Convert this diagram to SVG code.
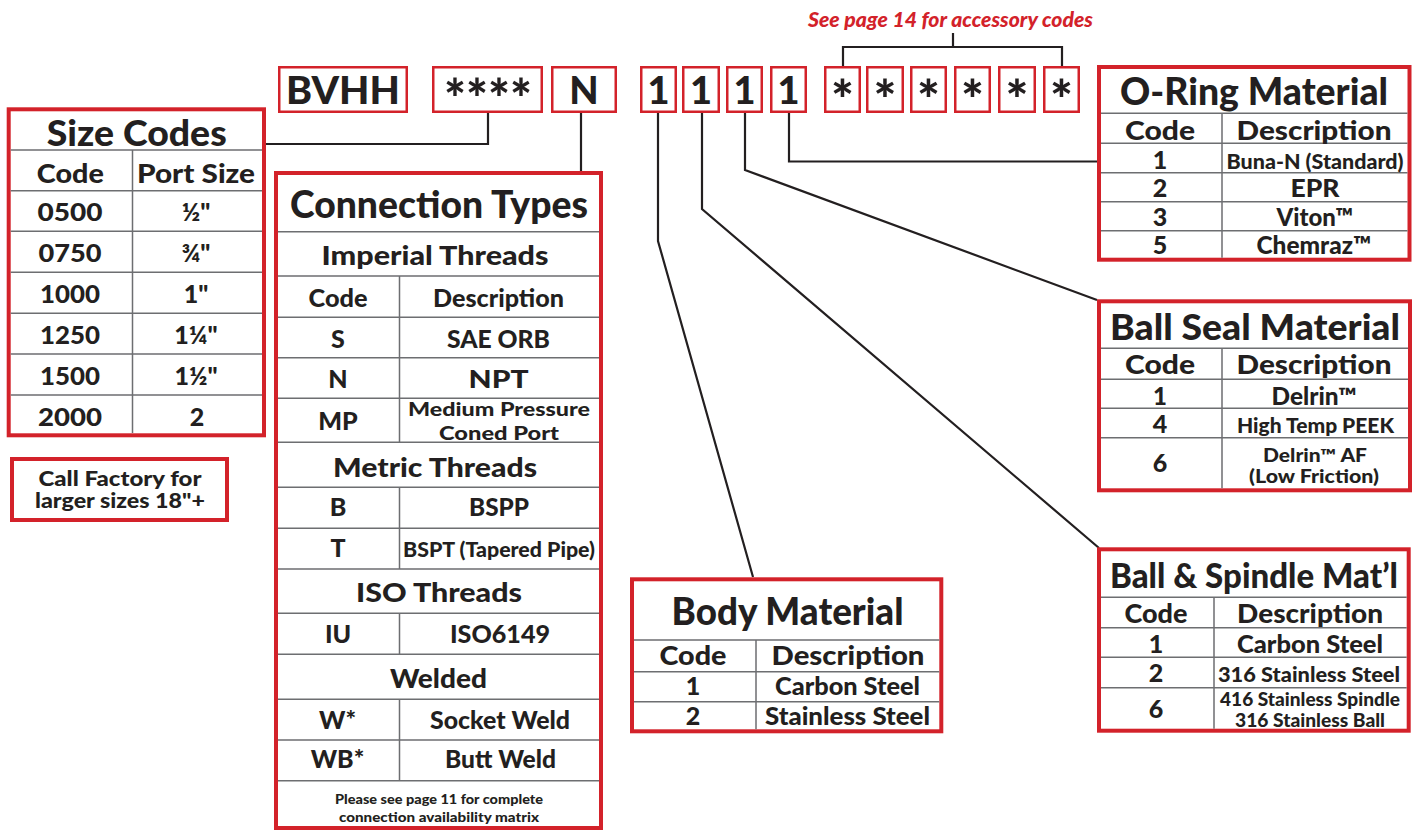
<svg xmlns="http://www.w3.org/2000/svg" width="1419" height="832" viewBox="0 0 1419 832">
<style>
.r{fill:#fff;stroke:#d3222a;stroke-width:4}
.cb{fill:#fff;stroke:#d3222a;stroke-width:2.5}
.g{stroke:#6d6e71;stroke-width:1.5;fill:none}
.c{fill:none;stroke:#231f20;stroke-width:2.2}
text{font-family:Lato,"Open Sans","Liberation Sans",sans-serif;font-weight:900;fill:#231f20;text-anchor:middle}
.t{font-size:36px}
.h{font-size:27px}
.v{font-size:25px}
.w{font-size:24px}
.s{font-size:20px}
.m{font-size:18px}
.k{font-size:38px}
.a{font-size:54px}
</style>
<rect width="1419" height="832" fill="#fff"/>

<g id="connectors">
<polyline class="c" points="488,113 488,144 266,144"/>
<polyline class="c" points="581,113 581,171"/>
<polyline class="c" points="658,113 658,241 753,577"/>
<polyline class="c" points="702,113 702,209 1099,548"/>
<polyline class="c" points="745,113 745,170 1097,300"/>
<polyline class="c" points="789,113 789,161.5 1097,161.5"/>
<polyline class="c" points="843,66 843,47 1062,47 1062,66"/>
<line class="c" x1="953" y1="47" x2="953" y2="33"/>
</g>

<g id="accessory-note">
<text x="950.5" y="27" style="font-size:21px;font-style:italic;fill:#d3222a" textLength="285" lengthAdjust="spacingAndGlyphs">See page 14 for accessory codes</text>
</g>

<g id="code-boxes">
<rect class="cb" x="279.25" y="67.25" width="127.5" height="44.5"/>
<text class="k" x="343" y="104" textLength="114" lengthAdjust="spacingAndGlyphs">BVHH</text>
<rect class="cb" x="433.25" y="67.25" width="108.5" height="44.5"/>
<text class="a" x="488" y="118" textLength="88" lengthAdjust="spacingAndGlyphs">****</text>
<rect class="cb" x="552.25" y="67.25" width="63.5" height="44.5"/>
<text class="k" x="584" y="104">N</text>
<rect class="cb" x="641.25" y="67.25" width="34.5" height="44.5"/>
<text class="k" x="658.5" y="104">1</text>
<rect class="cb" x="683.25" y="67.25" width="35.5" height="44.5"/>
<text class="k" x="701" y="104">1</text>
<rect class="cb" x="727.25" y="67.25" width="34.5" height="44.5"/>
<text class="k" x="744.5" y="104">1</text>
<rect class="cb" x="771.25" y="67.25" width="34.5" height="44.5"/>
<text class="k" x="788.5" y="104">1</text>
<rect class="cb" x="825.25" y="67.25" width="34.5" height="44.5"/>
<text class="a" x="842.5" y="119">*</text>
<rect class="cb" x="867.25" y="67.25" width="35.5" height="44.5"/>
<text class="a" x="885" y="119">*</text>
<rect class="cb" x="911.25" y="67.25" width="34.5" height="44.5"/>
<text class="a" x="928.5" y="119">*</text>
<rect class="cb" x="955.25" y="67.25" width="34.5" height="44.5"/>
<text class="a" x="972.5" y="119">*</text>
<rect class="cb" x="999.25" y="67.25" width="35.5" height="44.5"/>
<text class="a" x="1017" y="119">*</text>
<rect class="cb" x="1044.25" y="67.25" width="34.5" height="44.5"/>
<text class="a" x="1061.5" y="119">*</text>
</g>

<g id="size-codes">
<rect class="r" x="8.7" y="109.3" width="255.3" height="326"/>
<path class="g" d="M10.7 150H262M10.7 190.7H262M10.7 231.3H262M10.7 272.3H262M10.7 313.3H262M10.7 354H262M10.7 395H262M132.5 150V433"/>
<text x="136.7" y="146" style="font-size:36px" textLength="180" lengthAdjust="spacingAndGlyphs">Size Codes</text>
<text class="h" x="70.3" y="183" textLength="67" lengthAdjust="spacingAndGlyphs">Code</text>
<text class="h" x="196" y="183" textLength="118" lengthAdjust="spacingAndGlyphs">Port Size</text>
<text class="v" x="70" y="221" textLength="65" lengthAdjust="spacingAndGlyphs">0500</text>
<text class="v" x="196" y="221">½"</text>
<text class="v" x="70" y="262" textLength="63" lengthAdjust="spacingAndGlyphs">0750</text>
<text class="v" x="196" y="262">¾"</text>
<text class="v" x="70" y="303" textLength="60" lengthAdjust="spacingAndGlyphs">1000</text>
<text class="v" x="196" y="303">1"</text>
<text class="v" x="70" y="344" textLength="60" lengthAdjust="spacingAndGlyphs">1250</text>
<text class="v" x="196" y="344">1¼"</text>
<text class="v" x="70" y="385" textLength="60" lengthAdjust="spacingAndGlyphs">1500</text>
<text class="v" x="196" y="385">1½"</text>
<text class="v" x="70" y="426" textLength="64" lengthAdjust="spacingAndGlyphs">2000</text>
<text class="v" x="197" y="426">2</text>
</g>

<g id="call-factory">
<rect class="r" x="12" y="459" width="215" height="61"/>
<text class="s" x="120" y="486" textLength="163" lengthAdjust="spacingAndGlyphs">Call Factory for</text>
<text class="s" x="120" y="508" textLength="170" lengthAdjust="spacingAndGlyphs">larger sizes 18"+</text>
</g>

<g id="connection-types">
<rect class="r" x="276" y="173" width="325" height="655"/>
<path class="g" d="M278 231.7H599M278 276H599M278 317.3H599M278 357.7H599M278 398.3H599M278 442.3H599M278 487.3H599M278 528.3H599M278 569H599M278 613.3H599M278 654.3H599M278 699.3H599M278 740H599M278 780.7H599M399.5 276V442.3M399.5 487.3V569M399.5 613.3V654.3M399.5 699.3V780.7"/>
<text x="439" y="218" style="font-size:37px" textLength="298" lengthAdjust="spacingAndGlyphs">Connection Types</text>
<text class="h" x="435" y="265" textLength="227" lengthAdjust="spacingAndGlyphs">Imperial Threads</text>
<text class="v" x="338" y="307" textLength="59" lengthAdjust="spacingAndGlyphs">Code</text>
<text class="v" x="498.5" y="307" textLength="131" lengthAdjust="spacingAndGlyphs">Description</text>
<text class="v" x="338" y="348">S</text>
<text class="v" x="498.5" y="348" textLength="103" lengthAdjust="spacingAndGlyphs">SAE ORB</text>
<text class="v" x="338" y="388">N</text>
<text class="v" x="498.5" y="388" textLength="60" lengthAdjust="spacingAndGlyphs">NPT</text>
<text class="v" x="338" y="430">MP</text>
<text class="m" x="499" y="416" textLength="182" lengthAdjust="spacingAndGlyphs">Medium Pressure</text>
<text class="m" x="499" y="440" textLength="120" lengthAdjust="spacingAndGlyphs">Coned Port</text>
<text class="h" x="435" y="477" textLength="204" lengthAdjust="spacingAndGlyphs">Metric Threads</text>
<text class="v" x="338" y="516">B</text>
<text class="v" x="499" y="516" textLength="60" lengthAdjust="spacingAndGlyphs">BSPP</text>
<text class="v" x="338" y="557">T</text>
<text class="s" x="499" y="557" textLength="192" lengthAdjust="spacingAndGlyphs">BSPT (Tapered Pipe)</text>
<text class="h" x="439" y="602" textLength="166" lengthAdjust="spacingAndGlyphs">ISO Threads</text>
<text class="v" x="338" y="643">IU</text>
<text class="v" x="500" y="643" textLength="100" lengthAdjust="spacingAndGlyphs">ISO6149</text>
<text class="h" x="438.5" y="688" textLength="97" lengthAdjust="spacingAndGlyphs">Welded</text>
<text class="v" x="337.5" y="729">W*</text>
<text class="v" x="500" y="729" textLength="140" lengthAdjust="spacingAndGlyphs">Socket Weld</text>
<text class="v" x="337.5" y="768">WB*</text>
<text class="v" x="500.5" y="768" textLength="111" lengthAdjust="spacingAndGlyphs">Butt Weld</text>
<text x="439" y="804" style="font-size:14px" textLength="208" lengthAdjust="spacingAndGlyphs">Please see page 11 for complete</text>
<text x="439" y="822" style="font-size:14px" textLength="200" lengthAdjust="spacingAndGlyphs">connection availability matrix</text>
</g>

<g id="o-ring-material">
<rect class="r" x="1099" y="67" width="310.5" height="192.7"/>
<path class="g" d="M1101 113.3H1407.5M1101 143.3H1407.5M1101 172.7H1407.5M1101 201.7H1407.5M1101 230.7H1407.5M1222 113.3V257.7"/>
<text x="1254" y="105" style="font-size:38px" textLength="268" lengthAdjust="spacingAndGlyphs">O-Ring Material</text>
<text class="h" x="1160" y="140" textLength="70" lengthAdjust="spacingAndGlyphs">Code</text>
<text class="h" x="1314" y="140" textLength="155" lengthAdjust="spacingAndGlyphs">Description</text>
<text class="v" x="1160" y="169">1</text>
<text class="s" x="1315" y="169" textLength="177" lengthAdjust="spacingAndGlyphs">Buna-N (Standard)</text>
<text class="v" x="1160" y="197">2</text>
<text class="v" x="1315" y="197" textLength="49" lengthAdjust="spacingAndGlyphs">EPR</text>
<text class="v" x="1160" y="226">3</text>
<text class="v" x="1315" y="226" textLength="77" lengthAdjust="spacingAndGlyphs">Viton™</text>
<text class="v" x="1160" y="254">5</text>
<text class="v" x="1314" y="254" textLength="115" lengthAdjust="spacingAndGlyphs">Chemraz™</text>
</g>

<g id="ball-seal-material">
<rect class="r" x="1099" y="301.3" width="311" height="189"/>
<path class="g" d="M1101 348.3H1408M1101 379.3H1408M1101 408.3H1408M1101 437.7H1408M1222 348.3V488.3"/>
<text class="t" x="1255" y="340" textLength="290" lengthAdjust="spacingAndGlyphs">Ball Seal Material</text>
<text class="h" x="1160" y="374" textLength="70" lengthAdjust="spacingAndGlyphs">Code</text>
<text class="h" x="1314" y="374" textLength="155" lengthAdjust="spacingAndGlyphs">Description</text>
<text class="w" x="1160" y="404.5">1</text>
<text class="w" x="1314" y="404.5" textLength="85" lengthAdjust="spacingAndGlyphs">Delrin™</text>
<text class="v" x="1160" y="433">4</text>
<text class="s" x="1315.5" y="433" textLength="157" lengthAdjust="spacingAndGlyphs">High Temp PEEK</text>
<text class="v" x="1160" y="472">6</text>
<text class="m" x="1315" y="462" textLength="104" lengthAdjust="spacingAndGlyphs">Delrin™ AF</text>
<text class="m" x="1314" y="483" textLength="130" lengthAdjust="spacingAndGlyphs">(Low Friction)</text>
</g>

<g id="ball-spindle-material">
<rect class="r" x="1099" y="549.3" width="309.7" height="181.4"/>
<path class="g" d="M1101 597.3H1406.7M1101 627.7H1406.7M1101 657.3H1406.7M1101 687.7H1406.7M1214 597.3V728.7"/>
<text x="1254" y="588" style="font-size:34px" textLength="288" lengthAdjust="spacingAndGlyphs">Ball &amp; Spindle Mat’l</text>
<text class="h" x="1156" y="623" textLength="63" lengthAdjust="spacingAndGlyphs">Code</text>
<text class="h" x="1310" y="623" textLength="146" lengthAdjust="spacingAndGlyphs">Description</text>
<text class="v" x="1156" y="653">1</text>
<text class="v" x="1310" y="653" textLength="146" lengthAdjust="spacingAndGlyphs">Carbon Steel</text>
<text class="v" x="1156" y="682">2</text>
<text class="s" x="1309" y="682" textLength="182" lengthAdjust="spacingAndGlyphs">316 Stainless Steel</text>
<text class="v" x="1156" y="718">6</text>
<text class="m" x="1310" y="706" textLength="180" lengthAdjust="spacingAndGlyphs">416 Stainless Spindle</text>
<text class="m" x="1310" y="727" textLength="150" lengthAdjust="spacingAndGlyphs">316 Stainless Ball</text>
</g>

<g id="body-material">
<rect class="r" x="632" y="579.3" width="309.3" height="152"/>
<path class="g" d="M634 640H939.3M634 671.7H939.3M634 701.7H939.3M756 640V729.3"/>
<text x="787.5" y="625" style="font-size:37px" textLength="232" lengthAdjust="spacingAndGlyphs">Body Material</text>
<text class="h" x="693" y="665" textLength="67" lengthAdjust="spacingAndGlyphs">Code</text>
<text class="h" x="848" y="665" textLength="153" lengthAdjust="spacingAndGlyphs">Description</text>
<text class="v" x="693" y="695">1</text>
<text class="v" x="847.5" y="695" textLength="145" lengthAdjust="spacingAndGlyphs">Carbon Steel</text>
<text class="v" x="693" y="725">2</text>
<text class="v" x="847.5" y="725" textLength="165" lengthAdjust="spacingAndGlyphs">Stainless Steel</text>
</g>
</svg>
